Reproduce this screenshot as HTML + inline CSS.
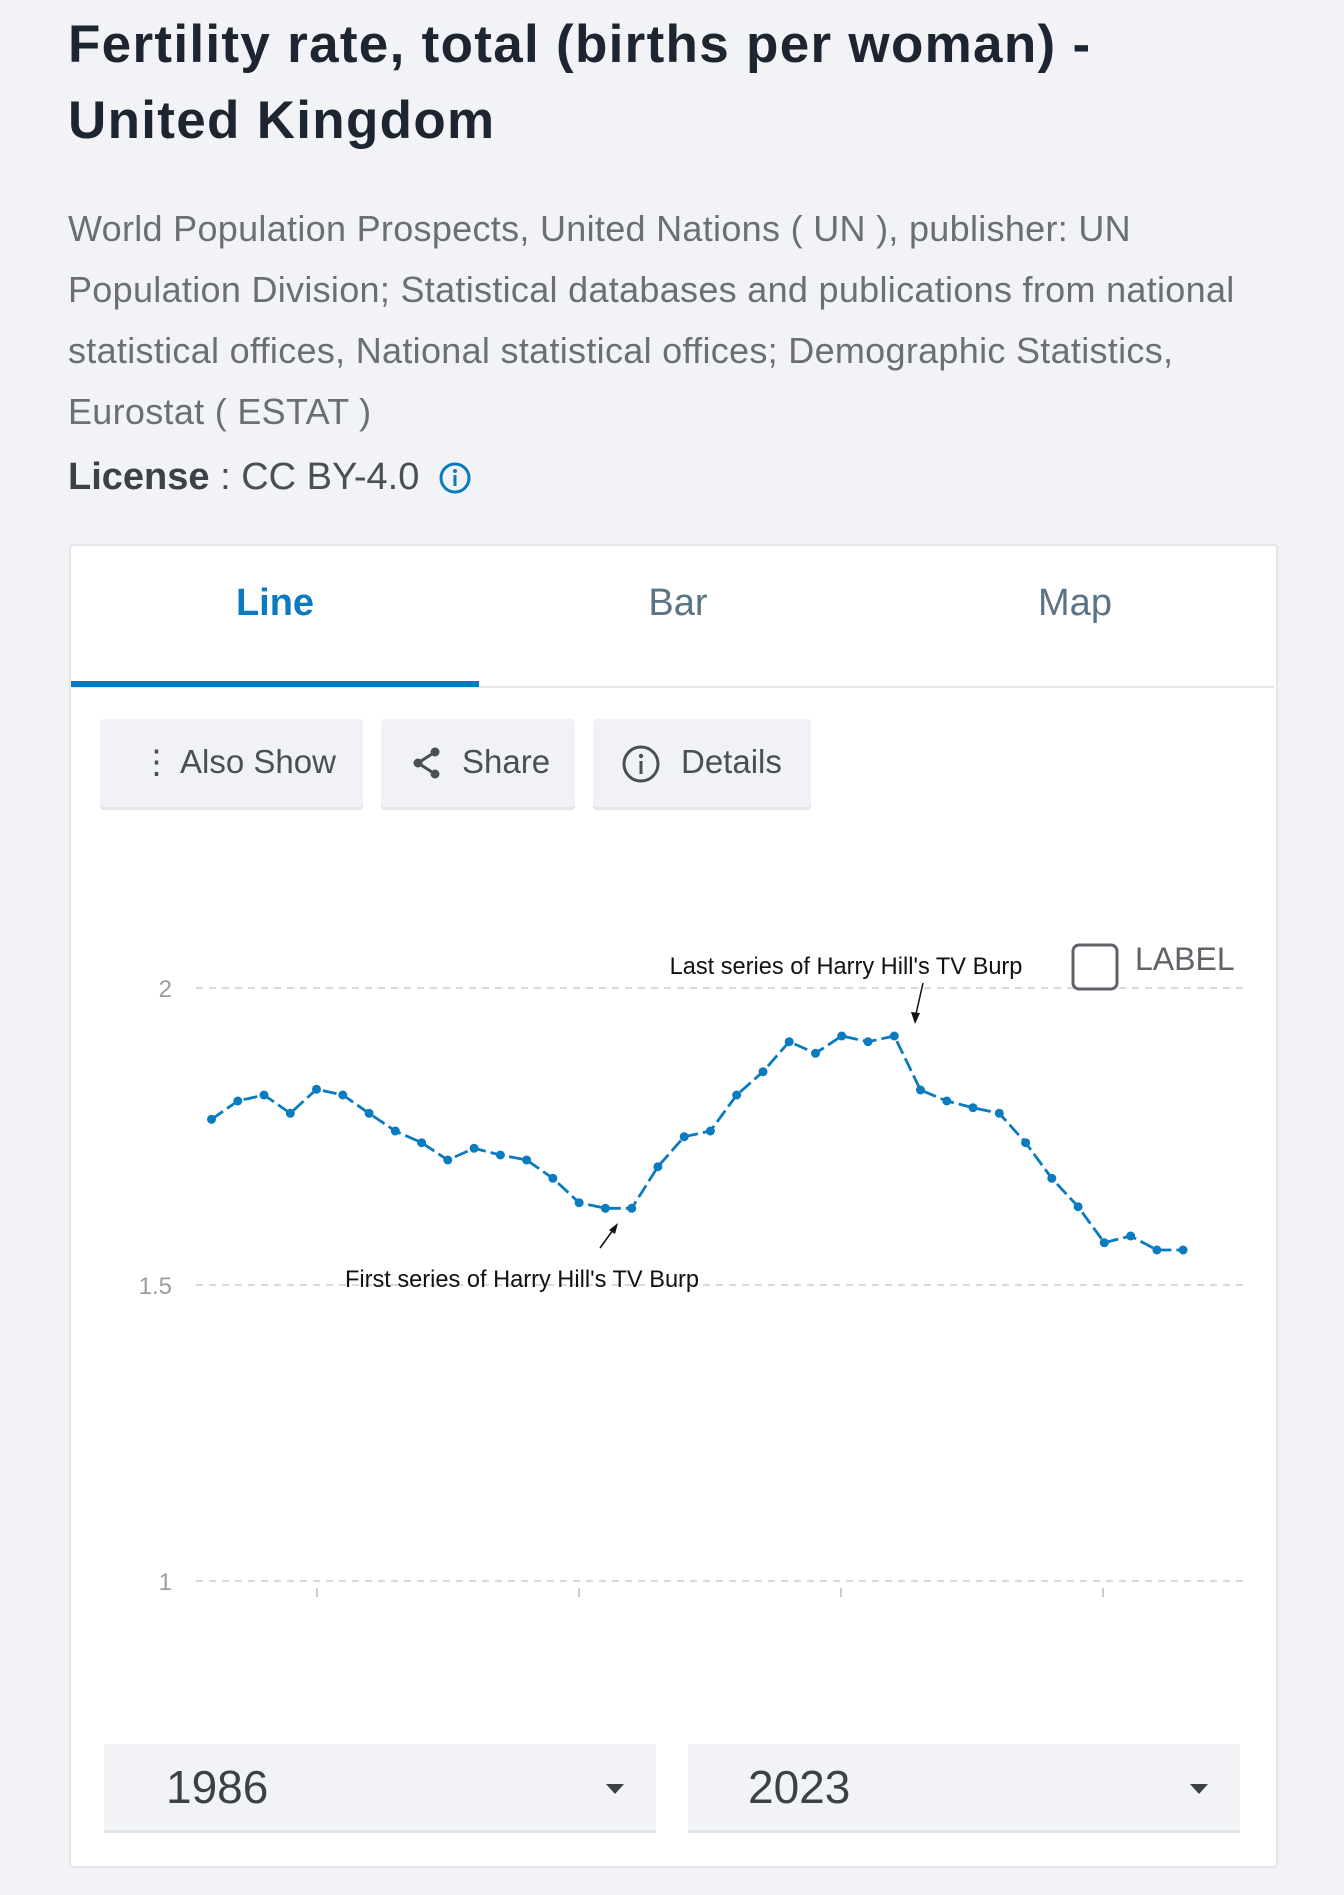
<!DOCTYPE html>
<html><head><meta charset="utf-8"><style>
body{margin:0;width:1344px;height:1895px;background:#f1f3f6;font-family:"Liberation Sans",sans-serif;position:relative;overflow:hidden}
.a{position:absolute}
h1{position:absolute;left:68px;top:7px;margin:0;font-size:53px;line-height:76px;font-weight:bold;color:#1c2530;letter-spacing:1.3px}
.p{left:68px;top:198px;width:1260px;font-size:36px;line-height:61px;color:#6b6f75;letter-spacing:0.3px;white-space:nowrap}
.card{left:69px;top:544px;width:1205px;height:1320px;background:#fff;border:2px solid #e3e6ea;border-radius:4px}
.tab{top:582px;font-size:38px;color:#5a7485;width:400px;text-align:center}
.btn{top:719px;height:88px;background:#f0f2f5;border-radius:4px;box-shadow:0 3px 0 #e2e5e9;font-size:33px;color:#4a4f55;line-height:86px}
.dd{top:1744px;height:86px;background:#f1f3f6;box-shadow:0 3px 0 #e2e5e9;font-size:46px;color:#3c4148;line-height:86px}
</style></head><body>
<h1>Fertility rate, total (births per woman) -<br>United Kingdom</h1>
<div class="a p">World Population Prospects, United Nations ( UN ), publisher: UN<br>Population Division; Statistical databases and publications from national<br>statistical offices, National statistical offices; Demographic Statistics,<br>Eurostat ( ESTAT )</div>
<div class="a" style="left:68px;top:456px;font-size:38px;color:#4a4f55"><b style="color:#3c4148">License</b> : CC BY-4.0</div>
<svg class="a" style="left:438px;top:461px" width="34" height="34"><circle cx="17" cy="17" r="14" fill="none" stroke="#0a7bbf" stroke-width="3"/><rect x="15.5" y="14" width="3" height="11" fill="#0a7bbf"/><circle cx="17" cy="10" r="2" fill="#0a7bbf"/></svg>
<div class="a card"></div>
<div class="a tab" style="left:75px;color:#0a7bbf;font-weight:bold">Line</div>
<div class="a tab" style="left:478px">Bar</div>
<div class="a tab" style="left:875px">Map</div>
<div class="a" style="left:71px;top:686px;width:1203px;height:2px;background:#e3e6ea"></div>
<div class="a" style="left:71px;top:681px;width:408px;height:6px;background:#0a7bbf"></div>
<div class="a btn" style="left:100px;width:263px"><span style="position:absolute;left:40px;">⋮</span><span style="position:absolute;left:80px">Also Show</span></div>
<div class="a btn" style="left:381px;width:194px"><svg style="position:absolute;left:30px;top:27px" width="32" height="34"><circle cx="24" cy="6" r="4.5" fill="#4a4f55"/><circle cx="7" cy="17" r="4.5" fill="#4a4f55"/><circle cx="24" cy="28" r="4.5" fill="#4a4f55"/><path d="M24 6L7 17L24 28" stroke="#4a4f55" stroke-width="3" fill="none"/></svg><span style="position:absolute;left:81px">Share</span></div>
<div class="a btn" style="left:593px;width:218px"><svg style="position:absolute;left:28px;top:25px" width="40" height="40"><circle cx="20" cy="20" r="17" fill="none" stroke="#4a4f55" stroke-width="3"/><rect x="18.5" y="17" width="3" height="13" fill="#4a4f55"/><circle cx="20" cy="12" r="2.2" fill="#4a4f55"/></svg><span style="position:absolute;left:88px">Details</span></div>
<svg class="a" style="left:0;top:0" width="1344" height="1895">
<g stroke="#d8dadd" stroke-width="2" stroke-dasharray="7,6">
<line x1="196" y1="988" x2="1245" y2="988"/><line x1="196" y1="1285" x2="1245" y2="1285"/><line x1="196" y1="1581" x2="1245" y2="1581"/></g>
<g fill="#9a9ea3" font-size="24" text-anchor="end" font-family="Liberation Sans"><text x="172" y="997">2</text><text x="172" y="1294">1.5</text><text x="172" y="1590">1</text></g>
<g stroke="#c8cbcf" stroke-width="2"><line x1="317" y1="1588" x2="317" y2="1597"/><line x1="579" y1="1588" x2="579" y2="1597"/><line x1="841" y1="1588" x2="841" y2="1597"/><line x1="1103" y1="1588" x2="1103" y2="1597"/></g>
<g id="s"></g>
<text x="846" y="974" font-size="23.6" text-anchor="middle" fill="#111" font-family="Liberation Sans">Last series of Harry Hill's TV Burp</text>
<text x="522" y="1287" font-size="23.6" text-anchor="middle" fill="#111" font-family="Liberation Sans">First series of Harry Hill's TV Burp</text>
<line x1="923" y1="983" x2="916" y2="1014" stroke="#111" stroke-width="1.5"/><path d="M911 1012L915 1024L920 1013Z" fill="#111"/>
<line x1="600" y1="1248" x2="613" y2="1230" stroke="#111" stroke-width="1.5"/><path d="M609 1230L618 1223L615 1234Z" fill="#111"/>
<rect x="1073" y="945" width="44" height="44" rx="6" fill="#fff" stroke="#5f6368" stroke-width="3"/>
<text x="1135" y="970" font-size="32" fill="#5f6368" font-family="Liberation Sans">LABEL</text>
</svg>
<div class="a dd" style="left:104px;width:552px"><span style="position:absolute;left:62px">1986</span><span style="position:absolute;left:502px;top:40px;border:9px solid transparent;border-top:10px solid #3c4148;border-bottom:0"></span></div>
<div class="a dd" style="left:688px;width:552px"><span style="position:absolute;left:60px">2023</span><span style="position:absolute;left:502px;top:40px;border:9px solid transparent;border-top:10px solid #3c4148;border-bottom:0"></span></div>
<script>
var ys=[1119.3,1101,1095,1113.3,1089.3,1095,1113.3,1131,1142.7,1160,1148.3,1155,1160,1178.3,1202.7,1208.3,1208.3,1166.7,1136.7,1131,1095,1071.7,1041.7,1053.3,1036,1041.7,1036,1090,1101,1107.7,1113.3,1142.7,1178.3,1206.7,1242.7,1236,1250,1250];
var g=document.getElementById('s'),h='',pts=[];
ys.forEach(function(y,i){pts.push((211.5+i*26.26).toFixed(1)+','+y);});
h+='<polyline points="'+pts.join(' ')+'" fill="none" stroke="#0a7bbf" stroke-width="2.8" stroke-dasharray="14,5"/>';
pts.forEach(function(p){var c=p.split(',');h+='<circle cx="'+c[0]+'" cy="'+c[1]+'" r="4.5" fill="#0a7bbf"/>';});
g.innerHTML=h;
</script>
</body></html>
